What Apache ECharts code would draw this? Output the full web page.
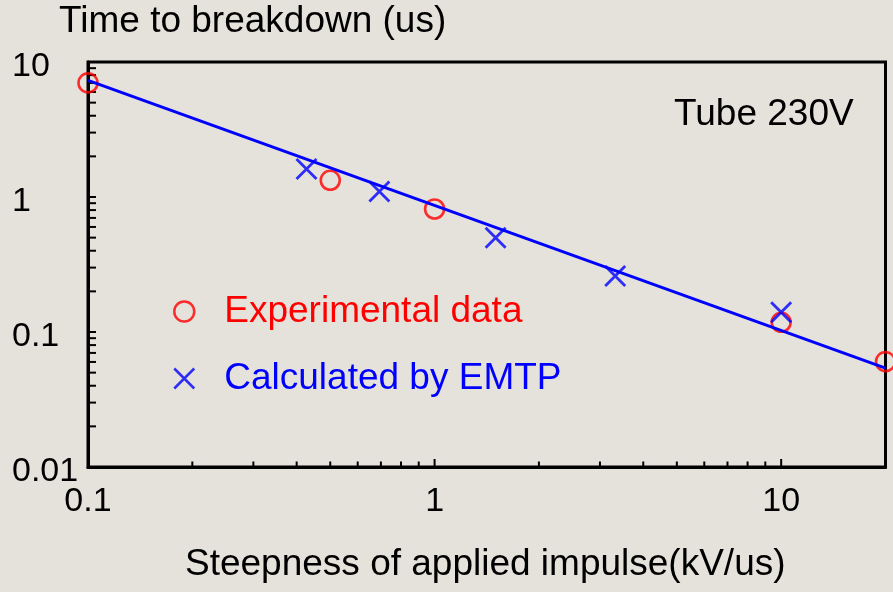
<!DOCTYPE html>
<html>
<head>
<meta charset="utf-8">
<script src="https://cdn.jsdelivr.net/npm/echarts@6/dist/echarts.min.js"></script>
<style>
  html, body { margin: 0; padding: 0; background: #e5e2db; }
  #chart { width: 893px; height: 592px; }
</style>
</head>
<body>
<div id="chart"></div>
<script>
// measured data (log-log)
var expX = [0.1, 0.5, 1.0, 10, 20];
var expY = [7.0, 1.33, 0.815, 0.118, 0.0603];
var emtpX = [0.427, 0.693, 1.50, 3.32, 10];
var emtpY = [1.61, 1.10, 0.50, 0.26, 0.140];
// fitted line end points
var fitX = [0.1, 20];
var fitY = [7.3, 0.054];

// tick positions (minor + major), labels only on decades
var xTickVals = [0.2, 0.3, 0.4, 0.5, 0.6, 0.7, 0.8, 0.9, 1, 2, 3, 4, 5, 6, 7, 8, 9, 10];
var xMajor = [1, 10];
var yTickVals = [0.02, 0.03, 0.04, 0.05, 0.06, 0.07, 0.08, 0.09, 0.1,
                 0.2, 0.3, 0.4, 0.5, 0.6, 0.7, 0.8, 0.9, 1,
                 2, 3, 4, 5, 6, 7, 8, 9];

var FONT = '"Liberation Sans", Arial, sans-serif';
var RED = '#ff0000';
var BLUE = '#0000ff';

function decadeLabel(v) {
  var l = Math.log10(v);
  if (Math.abs(l - Math.round(l)) > 1e-6) return '';
  return String(+Math.pow(10, Math.round(l)).toPrecision(3));
}

function zip(a, b) {
  return a.map(function (v, i) { return [v, b[i]]; });
}

var chart = echarts.init(document.getElementById('chart'));

chart.setOption({
  backgroundColor: '#e5e2db',
  animation: false,
  title: [
    { text: 'Time to breakdown (us)', left: 59, top: 3, padding: 0,
      textStyle: { fontSize: 37, fontWeight: 'normal', color: '#000', fontFamily: FONT } },
    { text: 'Steepness of applied impulse(kV/us)', left: 185, top: 546, padding: 0,
      textStyle: { fontSize: 37, fontWeight: 'normal', color: '#000', fontFamily: FONT } },
    { text: 'Tube 230V', left: 674, top: 96, padding: 0,
      textStyle: { fontSize: 37, fontWeight: 'normal', color: '#000', fontFamily: FONT } }
  ],
  legend: {
    orient: 'vertical',
    left: 173,
    top: 293,
    padding: 0,
    itemGap: 30,
    itemWidth: 20,
    itemHeight: 20,
    selectedMode: false,
    textStyle: { fontSize: 37, fontFamily: FONT, padding: [0, 0, 0, 25] },
    data: [
      { name: 'Experimental data', icon: 'circle',
        itemStyle: { color: 'rgba(0,0,0,0)', borderColor: RED, borderWidth: 2.5 },
        textStyle: { color: RED } },
      { name: 'Calculated by EMTP', icon: 'path://M0,0L10,10M10,0L0,10',
        itemStyle: { color: 'rgba(0,0,0,0)', borderColor: BLUE, borderWidth: 2.5 },
        textStyle: { color: BLUE } }
    ]
  },
  grid: {
    left: 88, right: 7.5, top: 62, bottom: 125,
    show: true, borderColor: '#000', borderWidth: 3,
    backgroundColor: 'transparent'
  },
  xAxis: {
    type: 'log', logBase: 10, min: 0.1, max: 20,
    axisLine: { show: true, lineStyle: { color: '#000', width: 3 } },
    axisTick: { show: false },
    splitLine: { show: false },
    axisLabel: { formatter: decadeLabel, fontSize: 34, color: '#000', fontFamily: FONT, margin: 18 }
  },
  yAxis: {
    type: 'log', logBase: 10, min: 0.01, max: 10,
    axisLine: { show: true, lineStyle: { color: '#000', width: 3 } },
    axisTick: { show: false },
    splitLine: { show: false },
    axisLabel: { formatter: decadeLabel, fontSize: 34, color: '#000', fontFamily: FONT,
                 align: 'left', margin: 76, verticalAlign: 'top', lineHeight: 10 }
  },
  series: [
    {
      // bottom axis ticks, inward
      type: 'custom', silent: true, clip: false, z: 4,
      data: xTickVals.map(function (v) { return [v, 0.01]; }),
      renderItem: function (params, api) {
        var v = api.value(0);
        var p = api.coord([v, 0.01]);
        var len = xMajor.indexOf(v) >= 0 ? 8 : 5.5;
        return { type: 'line',
          shape: { x1: p[0], y1: p[1], x2: p[0], y2: p[1] - len },
          style: { stroke: '#000', lineWidth: 2 } };
      }
    },
    {
      // left axis ticks, inward
      type: 'custom', silent: true, clip: false, z: 4,
      data: yTickVals.map(function (v) { return [0.1, v]; }),
      renderItem: function (params, api) {
        var p = api.coord([0.1, api.value(1)]);
        return { type: 'line',
          shape: { x1: p[0], y1: p[1], x2: p[0] + 8, y2: p[1] },
          style: { stroke: '#000', lineWidth: 2 } };
      }
    },
    {
      name: 'Experimental data',
      type: 'scatter',
      data: zip(expX, expY),
      symbol: 'circle',
      symbolSize: 19,
      clip: false,
      itemStyle: { color: 'rgba(0,0,0,0)', borderColor: RED, borderWidth: 2.6 },
      z: 5
    },
    {
      name: 'Calculated by EMTP',
      type: 'scatter',
      data: zip(emtpX, emtpY),
      symbol: 'path://M0,0L10,10M10,0L0,10',
      symbolSize: 20,
      clip: false,
      itemStyle: { color: 'rgba(0,0,0,0)', borderColor: BLUE, borderWidth: 2.8 },
      z: 5
    },
    {
      name: 'fit',
      type: 'line',
      data: zip(fitX, fitY),
      showSymbol: false,
      symbol: 'none',
      lineStyle: { color: BLUE, width: 3 },
      z: 6
    }
  ]
});
</script>
</body>
</html>
